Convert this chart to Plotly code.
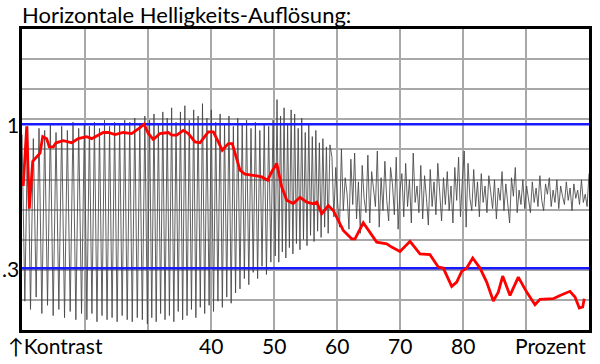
import plotly.graph_objects as go

# ---------------- data ----------------
title_text = "Horizontale Helligkeits-Auflösung:"
x_tick_vals = [10, 20, 30, 40, 50, 60, 70, 80, 90, 100]
x_tick_text = ["", "", "", "40", "50", "60", "70", "80", "", ""]
ref_levels = [1.0, 0.3]
ref_labels = ["1", ".3"]

sig_x_a = [10.0, 10.45, 10.9, 11.35, 11.8, 12.25, 12.7, 13.15, 13.6, 14.05, 14.5, 14.95,
           15.4, 15.85, 16.3, 16.75, 17.2, 17.65, 18.1, 18.55, 19.0, 19.45, 19.9,
           20.3, 20.7, 21.1, 21.5, 21.9, 22.3, 22.7, 23.1, 23.5, 23.9, 24.3, 24.7,
           25.1, 25.5, 25.9, 26.3, 26.7, 27.1, 27.5, 27.9, 28.3, 28.7, 29.1, 29.5, 29.9]
sig_y_a = [0.95, 0.14, 0.99, 0.10, 0.93, 0.16, 0.98, 0.08, 0.97, 0.12, 1.00, 0.07,
           0.96, 0.10, 0.99, 0.06, 0.97, 0.09, 1.01, 0.05, 0.98, 0.08, 1.00,
           0.05, 0.99, 0.08, 1.01, 0.04, 0.98, 0.07, 1.02, 0.05, 0.99, 0.06, 1.01,
           0.04, 1.00, 0.07, 1.02, 0.05, 1.01, 0.04, 1.03, 0.06, 1.00, 0.05, 1.04, 0.03]

sig_x_b = [30.25, 30.6, 30.95, 31.3, 31.65, 32.0, 32.35, 32.7, 33.05, 33.4, 33.75, 34.1,
           34.45, 34.8, 35.15, 35.5, 35.85, 36.2, 36.55, 36.9, 37.25, 37.6, 37.95, 38.3,
           38.65, 39.0, 39.35, 39.7, 40.05, 40.4, 40.75, 41.1, 41.45, 41.8, 42.15, 42.5,
           42.85, 43.2, 43.55, 43.9, 44.25, 44.6, 44.95, 45.3, 45.65, 46.0, 46.35, 46.7,
           47.05, 47.4, 47.75, 48.1, 48.45, 48.8, 49.15, 49.5, 49.85]
sig_y_b = [1.02, 0.06, 1.05, 0.04, 1.00, 0.08, 1.06, 0.05, 1.03, 0.07, 1.08, 0.04,
           1.01, 0.09, 1.06, 0.05, 1.09, 0.07, 1.02, 0.10, 1.07, 0.06, 1.04, 0.11,
           1.10, 0.08, 1.03, 0.12, 1.07, 0.09, 1.01, 0.14, 1.05, 0.11, 1.00, 0.16,
           1.04, 0.13, 0.99, 0.18, 1.03, 0.20, 1.00, 0.25, 1.02, 0.22, 0.98, 0.28,
           1.01, 0.25, 0.97, 0.31, 1.00, 0.27, 0.99, 0.33, 1.02]

sig_x_c = [50.2, 50.48, 50.76, 51.04, 51.32, 51.6, 51.88, 52.16, 52.44, 52.72, 53.0,
           53.28, 53.56, 53.84, 54.12, 54.4, 54.68, 54.96, 55.24, 55.52, 55.8, 56.08,
           56.36, 56.64, 56.92, 57.2, 57.48, 57.76, 58.04, 58.32, 58.6, 58.88]
sig_y_c = [0.36, 1.12, 0.33, 1.04, 0.38, 1.08, 0.35, 1.00, 0.40, 1.07, 0.37,
           1.05, 0.42, 0.98, 0.39, 1.03, 0.44, 0.96, 0.41, 1.00, 0.46, 0.94,
           0.43, 0.97, 0.48, 0.91, 0.45, 0.93, 0.50, 0.89, 0.47, 0.90]

sig_x_d = [59.2, 59.5, 59.8, 60.1, 60.4, 60.7, 61.0, 61.3, 61.6, 61.9,
           62.2, 62.5, 62.8, 63.1, 63.4, 63.7, 64.0, 64.3, 64.6, 64.9,
           65.2, 65.5, 65.8, 66.1, 66.4, 66.7, 67.0, 67.3, 67.6, 67.9,
           68.2, 68.5, 68.8, 69.1, 69.4, 69.7, 70.0, 70.3, 70.6, 70.9,
           71.2, 71.5, 71.8, 72.1, 72.4, 72.7, 73.0, 73.3, 73.6, 73.9,
           74.2, 74.5, 74.8, 75.1, 75.4, 75.7, 76.0, 76.3, 76.6, 76.9,
           77.2, 77.5, 77.8, 78.1, 78.4, 78.7, 79.0, 79.3, 79.6, 79.9,
           80.2, 80.5, 80.8, 81.1, 81.4, 81.7, 82.0, 82.3, 82.6, 82.9,
           83.2, 83.5, 83.8, 84.1, 84.4, 84.7, 85.0, 85.3, 85.6, 85.9,
           86.2, 86.5, 86.8, 87.1, 87.4, 87.7, 88.0, 88.3, 88.6, 88.9,
           89.2, 89.5, 89.8, 90.1, 90.4, 90.7, 91.0, 91.3, 91.6, 91.9,
           92.2, 92.5, 92.8, 93.1, 93.4, 93.7, 94.0, 94.3, 94.6, 94.9,
           95.2, 95.5, 95.8, 96.1, 96.4, 96.7, 97.0, 97.3, 97.6, 97.9,
           98.2, 98.5, 98.8, 99.1, 99.4, 99.7, 100.0]
sig_y_d = [0.84, 0.55, 0.79, 0.62, 0.50, 0.88, 0.58, 0.74, 0.66, 0.49,
           0.83, 0.61, 0.86, 0.54, 0.72, 0.47, 0.80, 0.64, 0.57, 0.85,
           0.52, 0.77, 0.69, 0.60, 0.87, 0.50, 0.74, 0.58, 0.82, 0.63,
           0.53, 0.79, 0.71, 0.56, 0.84, 0.49, 0.68, 0.76, 0.55, 0.81,
           0.60, 0.73, 0.52, 0.86, 0.62, 0.70, 0.57, 0.80, 0.54, 0.75,
           0.64, 0.51, 0.78, 0.60, 0.72, 0.56, 0.81, 0.66, 0.53, 0.74,
           0.61, 0.77, 0.58, 0.70, 0.52, 0.79, 0.63, 0.84, 0.55, 0.73,
           0.87, 0.50, 0.81, 0.64, 0.58, 0.78, 0.60, 0.72, 0.55, 0.76,
           0.62, 0.70, 0.57, 0.75, 0.66, 0.59, 0.73, 0.54, 0.69, 0.63,
           0.77, 0.58, 0.71, 0.62, 0.52, 0.74, 0.65, 0.79, 0.57, 0.68,
           0.61, 0.73, 0.59, 0.70, 0.64, 0.57, 0.72, 0.62, 0.69, 0.60,
           0.75, 0.63, 0.58, 0.71, 0.66, 0.74, 0.60, 0.68, 0.62, 0.73,
           0.59, 0.70, 0.65, 0.61, 0.72, 0.63, 0.69, 0.58, 0.71, 0.64,
           0.68, 0.61, 0.73, 0.62, 0.66, 0.60, 0.76]

# red contrast curve
red_x = [10.2, 10.75, 11.16, 11.7, 12.86, 13.29, 13.92, 14.33, 14.97, 15.4, 16.56, 17.89,
         18.94, 20.27, 21.06, 22.9, 23.7, 24.76, 26.08, 27.41, 28.73, 29.37, 30.05, 30.84,
         31.9, 33.22, 33.76, 34.56, 35.6, 36.4, 37.46, 38.25, 39.57, 40.37, 41.06, 41.79,
         42.75, 43.38, 44.6, 45.4, 46.71, 48.05, 49.0, 49.63, 50.43, 51.22, 52.02, 53.06,
         54.13, 55.19, 56.24, 56.79, 57.57, 58.62, 59.41, 61.0, 62.33, 62.86, 64.17, 64.97,
         66.3, 67.89, 68.68, 70.0, 71.59, 73.17, 74.76, 76.08, 76.87, 78.21, 79.0, 79.79,
         80.59, 81.54, 82.7, 83.76, 84.81, 85.6, 86.3, 87.46, 88.78, 90.11, 91.43, 92.22,
         94.33, 95.4, 96.46, 96.98, 97.78, 98.46, 99.0, 99.25]
red_y = [0.70, 0.99, 0.59, 0.82, 0.86, 0.94, 0.93, 0.89, 0.89, 0.91, 0.92, 0.91,
         0.93, 0.94, 0.93, 0.96, 0.96, 0.95, 0.96, 0.955, 0.984, 1.0, 0.955, 0.926,
         0.955, 0.96, 0.947, 0.947, 0.97, 0.955, 0.914, 0.91, 0.963, 0.963, 0.92, 0.874,
         0.906, 0.906, 0.777, 0.757, 0.752, 0.744, 0.728, 0.768, 0.81, 0.696, 0.631, 0.615,
         0.645, 0.621, 0.613, 0.621, 0.565, 0.605, 0.581, 0.484, 0.443, 0.443, 0.521, 0.484,
         0.427, 0.419, 0.403, 0.382, 0.431, 0.37, 0.366, 0.306, 0.301, 0.212, 0.233, 0.285,
         0.301, 0.35, 0.301, 0.233, 0.141, 0.184, 0.262, 0.168, 0.257, 0.184, 0.123, 0.149,
         0.152, 0.168, 0.18, 0.188, 0.16, 0.107, 0.112, 0.152]

# ---------------- figure ----------------
sig_x = sig_x_a + sig_x_b + sig_x_c + sig_x_d
sig_y = sig_y_a + sig_y_b + sig_y_c + sig_y_d

Y_TOP = 1.463
FONT = "Lato, 'Liberation Sans', sans-serif"
LABEL_SHIFT = -15

fig = go.Figure()
fig.add_trace(go.Scatter(x=sig_x, y=sig_y, mode="lines",
                         line=dict(color="#444444", width=0.85), hoverinfo="skip"))
for lv in ref_levels:
    fig.add_trace(go.Scatter(x=[x_tick_vals[0], x_tick_vals[-1]], y=[lv, lv], mode="lines",
                             line=dict(color="#1a1aff", width=2.5), hoverinfo="skip"))
fig.add_trace(go.Scatter(x=red_x, y=red_y, mode="lines",
                         line=dict(color="#ff0000", width=2.8), hoverinfo="skip"))

for lv, lab in zip(ref_levels, ref_labels):
    fig.add_annotation(x=0, xref="paper", y=lv, yref="y", text=lab, showarrow=False,
                       xanchor="right", xshift=-1, font=dict(size=21, color="black", family=FONT))

for tv, tt in zip(x_tick_vals, x_tick_text):
    if tt:
        fig.add_annotation(x=tv, xref="x", y=0, yref="paper", text=tt, showarrow=False,
                           xanchor="center", yanchor="middle", yshift=LABEL_SHIFT,
                           font=dict(size=21, color="black", family=FONT))

fig.add_annotation(x=0, xref="paper", y=0, yref="paper", text="↑Kontrast", showarrow=False,
                   xanchor="left", yanchor="middle", xshift=-16, yshift=LABEL_SHIFT,
                   font=dict(size=21, color="black", family=FONT))
fig.add_annotation(x=1, xref="paper", y=0, yref="paper", text="Prozent", showarrow=False,
                   xanchor="right", yanchor="middle", xshift=-1, yshift=LABEL_SHIFT,
                   font=dict(size=21, color="black", family=FONT))
fig.add_annotation(x=0, xref="paper", y=1, yref="paper", text=title_text, showarrow=False,
                   xanchor="left", yanchor="bottom", xshift=-2, yshift=-1,
                   font=dict(size=22, color="black", family=FONT))

fig.update_layout(
    width=600, height=364,
    margin=dict(l=22, r=11, t=29, b=34, autoexpand=False),
    paper_bgcolor="white", plot_bgcolor="white",
    showlegend=False,
    xaxis=dict(range=[10, 100], tickmode="array", tickvals=x_tick_vals,
               showgrid=True, gridcolor="#a8a8a8", gridwidth=1.5, zeroline=False,
               showline=True, linecolor="black", linewidth=3, mirror=True, automargin=False,
               showticklabels=False, ticks=""),
    yaxis=dict(range=[0, Y_TOP], tickmode="linear", tick0=0, dtick=Y_TOP / 10,
               showgrid=True, gridcolor="#a8a8a8", gridwidth=1.5, zeroline=False,
               showline=True, linecolor="black", linewidth=3, mirror=True, automargin=False,
               showticklabels=False, ticks=""),
)

fig.write_html("out.html")
